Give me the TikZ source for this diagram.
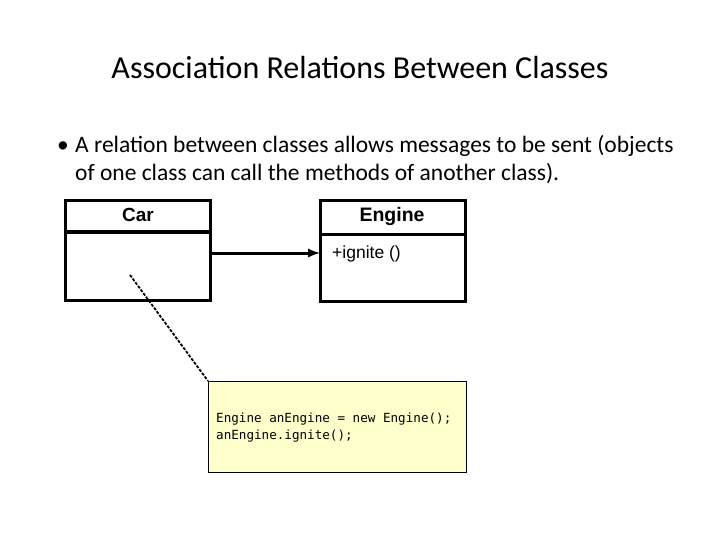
\documentclass[tikz,border=0pt]{standalone}
\usepackage{fontspec}
\setmainfont{Carlito}
\newfontfamily\armo{Liberation Sans}
\newfontfamily\codef{DejaVu Sans Mono}
\begin{document}
\begin{tikzpicture}[x=1pt,y=-1pt,
  box/.style={draw,line width=3pt},
  note/.style={draw,line width=1pt,fill={rgb,255:red,255;green,255;blue,204}}]
\useasboundingbox (0,0) rectangle (720,540);
\node[font=\fontsize{32}{38}\selectfont] (title) at (360,68) {Association Relations Between Classes};
\node[anchor=base west,font=\fontsize{23.5}{28}\selectfont,inner sep=0] (b) at (57,153) {•};
\node[anchor=base west,font=\fontsize{23.5}{28}\selectfont,inner sep=0] (l1) at (75,153) {A relation between classes allows messages to be sent (objects};
\node[anchor=base west,font=\fontsize{23.5}{28}\selectfont,inner sep=0] (l2) at (75,181) {of one class can call the methods of another class).};
% Car
\draw[box] (65,201) rectangle (210,300);
\draw[box] (65,232) -- (210,232);
\node[font=\armo\bfseries\fontsize{19}{22}\selectfont] (car) at (138,215) {Car};
% Engine
\draw[box] (320,201) rectangle (465,301);
\draw[box] (320,234) -- (465,234);
\node[font=\armo\bfseries\fontsize{19.5}{22}\selectfont] (eng) at (392,217) {Engine};
\node[anchor=west,font=\armo\fontsize{17.5}{20}\selectfont,inner sep=0] (ign) at (332,254) {+ignite ()};
\coordinate (a1) at (211,253);
\coordinate (a2) at (320,253);
\draw[line width=3pt,-{latex}] (a1) -- (a2);
% note
\node[note,minimum width=258,minimum height=91,anchor=north west] (n) at (208,381) {};
\node[anchor=west,align=left,font=\codef\fontsize{12.6}{17}\selectfont,inner sep=0] (code) at (216,428) {Engine anEngine = new Engine();\\anEngine.ignite();};
\coordinate (c1) at (130,275);
\draw[line width=1.8pt,dashed,dash pattern=on 3pt off 1.5pt] (c1) -- (n.north west);
\end{tikzpicture}
\end{document}
